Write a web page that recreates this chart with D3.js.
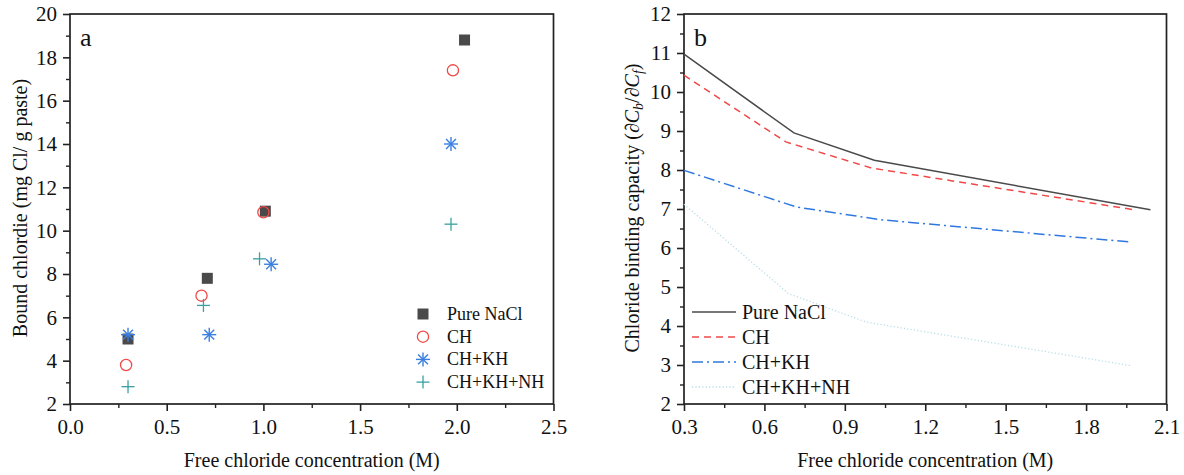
<!DOCTYPE html>
<html>
<head>
<meta charset="utf-8">
<script src="https://cdn.jsdelivr.net/npm/d3@7"></script>
<style>
  body { margin: 0; background: #fff; }
  svg text { font-family: "Liberation Serif", "Times New Roman", serif; fill: #111; }
</style>
</head>
<body>
<svg id="chart" width="1184" height="475"></svg>
<script>
// series names
var seriesNames = ["Pure NaCl", "CH", "CH+KH", "CH+KH+NH"];
var colors = ["#4a4a4a", "#f04848", "#3a7fe0", "#3aa0a0"];
var lineColors = ["#4a4a4a", "#f04848", "#2f78e0", "#b8dde6"];

// panel a : bound chloride vs free chloride
var freeNaCl = [0.30, 0.71, 1.01, 2.04];
var boundNaCl = [5.0, 7.8, 10.9, 18.8];
var freeCH = [0.29, 0.68, 1.00, 1.98];
var boundCH = [3.8, 7.0, 10.85, 17.4];
var freeKH = [0.30, 0.72, 1.04, 1.97];
var boundKH = [5.2, 5.2, 8.45, 14.0];
var freeNH = [0.30, 0.69, 0.98, 1.97];
var boundNH = [2.8, 6.55, 8.7, 10.3];

// panel b : binding capacity
var capXNaCl = [0.30, 0.71, 1.01, 2.04];
var capNaCl = [10.97, 8.95, 8.25, 6.98];
var capXCH = [0.30, 0.68, 1.00, 1.98];
var capCH = [10.43, 8.72, 8.05, 6.98];
var capXKH = [0.30, 0.72, 1.04, 1.97];
var capKH = [7.99, 7.05, 6.72, 6.15];
var capXNH = [0.30, 0.69, 0.98, 1.97];
var capNH = [7.12, 4.83, 4.10, 2.98];

var xTicksA = [0, 0.5, 1.0, 1.5, 2.0, 2.5];
var yTicksA = [2, 4, 6, 8, 10, 12, 14, 16, 18, 20];
var xTicksB = [0.3, 0.6, 0.9, 1.2, 1.5, 1.8, 2.1];
var yTicksB = [2, 3, 4, 5, 6, 7, 8, 9, 10, 11, 12];

var svg = d3.select("#chart");

function zip(xs, ys) { return xs.map(function(x, i) { return [x, ys[i]]; }); }

// draw frame + axes, return scales
function panel(opt) {
  var x = d3.scaleLinear().domain(opt.xd).range([opt.left, opt.right]);
  var y = d3.scaleLinear().domain(opt.yd).range([opt.bottom, opt.top]);
  var g = svg.append("g");

  // minor ticks
  g.append("g").attr("transform", "translate(0," + opt.bottom + ")")
    .call(d3.axisBottom(x).tickValues(opt.xMinor).tickSize(4).tickFormat(""))
    .call(function(s) { s.select(".domain").remove(); s.selectAll("line").attr("stroke", "#222").attr("stroke-width", 1.4); });
  g.append("g").attr("transform", "translate(" + opt.left + ",0)")
    .call(d3.axisLeft(y).tickValues(opt.yMinor).tickSize(4).tickFormat(""))
    .call(function(s) { s.select(".domain").remove(); s.selectAll("line").attr("stroke", "#222").attr("stroke-width", 1.4); });

  var xa = g.append("g").attr("transform", "translate(0," + opt.bottom + ")")
    .call(d3.axisBottom(x).tickValues(opt.xTicks).tickSize(7).tickPadding(8).tickFormat(d3.format(".1f")));
  var ya = g.append("g").attr("transform", "translate(" + opt.left + ",0)")
    .call(d3.axisLeft(y).tickValues(opt.yTicks).tickSize(7).tickPadding(6).tickFormat(d3.format("d")));
  [xa, ya].forEach(function(a) {
    a.select(".domain").remove();
    a.selectAll("line").attr("stroke", "#222").attr("stroke-width", 1.6);
    a.selectAll("text").style("font-family", "Liberation Serif").style("font-size", "21px").attr("fill", "#111");
  });

  g.append("rect").attr("x", opt.left).attr("y", opt.top)
    .attr("width", opt.right - opt.left).attr("height", opt.bottom - opt.top)
    .attr("fill", "none").attr("stroke", "#222").attr("stroke-width", 1.7);

  g.append("text").attr("x", (opt.left + opt.right) / 2).attr("y", 467)
    .attr("text-anchor", "middle").style("font-size", "20px").text(opt.xTitle);

  g.append("text").attr("x", opt.left + 10).attr("y", 46)
    .style("font-size", "26px").text(opt.tag);

  return { x: x, y: y, g: g };
}

// ---- panel a
var a = panel({
  left: 70, right: 553.5, top: 14, bottom: 404,
  xd: [0, 2.5], yd: [2, 20],
  xTicks: xTicksA, yTicks: yTicksA,
  xMinor: d3.range(0.25, 2.5, 0.5), yMinor: d3.range(3, 20, 2),
  xTitle: "Free chloride concentration (M)", tag: "a"
});
a.g.append("text")
  .attr("transform", "translate(27,208) rotate(-90)")
  .attr("text-anchor", "middle").style("font-size", "20px")
  .text("Bound chlordie (mg Cl/ g paste)");

var ptsA = [zip(freeNaCl, boundNaCl), zip(freeCH, boundCH), zip(freeKH, boundKH), zip(freeNH, boundNH)];

function marker(g, k, cx, cy) {
  var c = colors[k];
  if (k === 0) {
    g.append("rect").attr("x", cx - 5.5).attr("y", cy - 5.5).attr("width", 11).attr("height", 11).attr("fill", c);
  } else if (k === 1) {
    g.append("circle").attr("cx", cx).attr("cy", cy).attr("r", 5.6)
      .attr("fill", "none").attr("stroke", c).attr("stroke-width", 1.3);
  } else if (k === 2) {
    var r = 7;
    [0, 45, 90, 135].forEach(function(ang) {
      var t = ang * Math.PI / 180;
      g.append("line").attr("x1", cx - r * Math.cos(t)).attr("y1", cy - r * Math.sin(t))
        .attr("x2", cx + r * Math.cos(t)).attr("y2", cy + r * Math.sin(t))
        .attr("stroke", c).attr("stroke-width", 1.4);
    });
  } else {
    var r2 = 6.5;
    g.append("line").attr("x1", cx - r2).attr("y1", cy).attr("x2", cx + r2).attr("y2", cy)
      .attr("stroke", c).attr("stroke-width", 1.3);
    g.append("line").attr("x1", cx).attr("y1", cy - r2).attr("x2", cx).attr("y2", cy + r2)
      .attr("stroke", c).attr("stroke-width", 1.3);
  }
}

ptsA.forEach(function(pts, k) {
  pts.forEach(function(p) { marker(a.g, k, a.x(p[0]), a.y(p[1])); });
});

// legend a
seriesNames.forEach(function(n, k) {
  var yy = 314 + k * 22.7;
  marker(a.g, k, 423, yy);
  a.g.append("text").attr("x", 447).attr("y", yy + 6).style("font-size", "18px").text(n);
});

// ---- panel b
var b = panel({
  left: 684, right: 1166.5, top: 14, bottom: 404,
  xd: [0.3, 2.1], yd: [2, 12],
  xTicks: xTicksB, yTicks: yTicksB,
  xMinor: d3.range(0.45, 2.1, 0.3), yMinor: d3.range(2.5, 12, 1),
  xTitle: "Free chloride concentration (M)", tag: "b"
});

var yt = b.g.append("text")
  .attr("transform", "translate(639,208) rotate(-90)")
  .attr("text-anchor", "middle").style("font-size", "20px");
yt.append("tspan").text("Chloride binding capacity (∂");
yt.append("tspan").style("font-style", "italic").text("C");
yt.append("tspan").attr("dy", 4).style("font-size", "14px").style("font-style", "italic").text("b");
yt.append("tspan").attr("dy", -4).text("/∂");
yt.append("tspan").style("font-style", "italic").text("C");
yt.append("tspan").attr("dy", 4).style("font-size", "14px").style("font-style", "italic").text("f");
yt.append("tspan").attr("dy", -4).text(")");

var dashes = [null, "7,5", "11,4,2,4", "1.2,2.2"];
var widths = [1.5, 1.5, 1.5, 1.3];
var ptsB = [zip(capXNaCl, capNaCl), zip(capXCH, capCH), zip(capXKH, capKH), zip(capXNH, capNH)];
var line = d3.line().x(function(d) { return b.x(d[0]); }).y(function(d) { return b.y(d[1]); });

ptsB.forEach(function(pts, k) {
  b.g.append("path").attr("d", line(pts)).attr("fill", "none")
    .attr("stroke", lineColors[k]).attr("stroke-width", widths[k])
    .attr("stroke-dasharray", dashes[k]);
});

// legend b
seriesNames.forEach(function(n, k) {
  var yy = 312 + k * 25;
  b.g.append("line").attr("x1", 692).attr("x2", 736).attr("y1", yy).attr("y2", yy)
    .attr("stroke", lineColors[k]).attr("stroke-width", widths[k])
    .attr("stroke-dasharray", dashes[k]);
  b.g.append("text").attr("x", 742).attr("y", yy + 7).style("font-size", "20px").text(n);
});
</script>
</body>
</html>
